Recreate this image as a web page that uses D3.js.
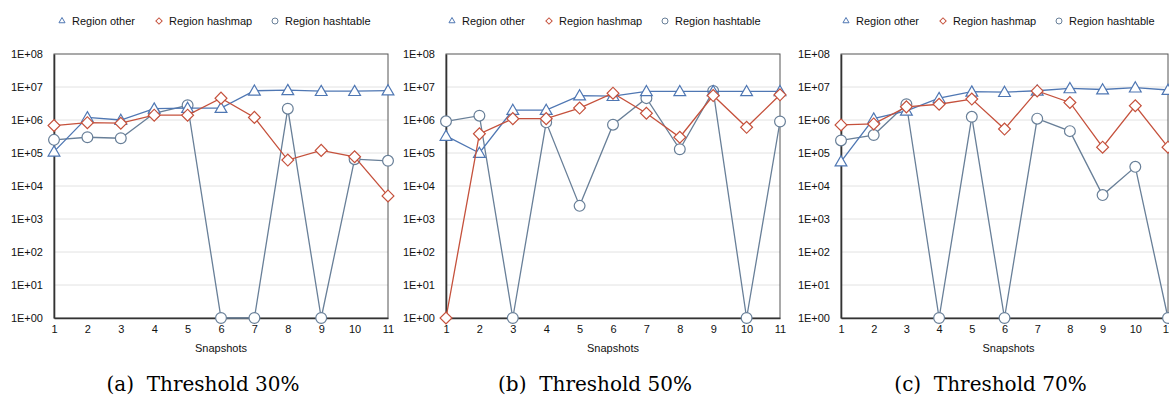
<!DOCTYPE html>
<html>
<head>
<meta charset="utf-8">
<script src="https://cdn.jsdelivr.net/npm/d3@7"></script>
<style>
  body { margin: 0; background: #fff; }
  svg { display: block; }
</style>
</head>
<body>
<svg id="chart" width="1169" height="397"></svg>
<script>
// snapshots on x, sizes (log scale) on y
var snapshots = [1, 2, 3, 4, 5, 6, 7, 8, 9, 10, 11];
var yTicks = [1, 1e1, 1e2, 1e3, 1e4, 1e5, 1e6, 1e7, 1e8];
var seriesNames = ["Region other", "Region hashmap", "Region hashtable"];
var captions = ["(a)  Threshold 30%", "(b)  Threshold 50%", "(c)  Threshold 70%"];

// threshold 30%
var other30     = [1.1e5, 1.2e6, 1.0e6, 2.2e6, 2.3e6, 2.3e6, 7.7e6, 8.0e6, 7.5e6, 7.5e6, 7.8e6];
var hashmap30   = [6.8e5, 8.3e5, 8.0e5, 1.4e6, 1.4e6, 4.6e6, 1.2e6, 6.1e4, 1.2e5, 7.7e4, 5.0e3];
var hashtable30 = [2.5e5, 3.0e5, 2.8e5, 1.6e6, 2.8e6, 1, 1, 2.2e6, 1, 6.5e4, 5.8e4];

// threshold 50%
var other50     = [3.3e5, 1.0e5, 2.0e6, 2.0e6, 5.5e6, 5.3e6, 7.4e6, 7.4e6, 7.4e6, 7.4e6, 7.4e6];
var hashmap50   = [1, 3.8e5, 1.1e6, 1.1e6, 2.3e6, 6.5e6, 1.6e6, 3.0e5, 5.5e6, 6.0e5, 5.8e6];
var hashtable50 = [9.1e5, 1.35e6, 1, 8.5e5, 2.5e3, 7.2e5, 4.6e6, 1.3e5, 7.6e6, 1, 9.0e5];

// threshold 70%
var other70     = [5.5e4, 1.1e6, 1.9e6, 4.6e6, 7.2e6, 7.0e6, 7.7e6, 9.1e6, 8.4e6, 9.6e6, 8.1e6];
var hashmap70   = [7.1e5, 7.6e5, 2.5e6, 3.0e6, 4.3e6, 5.3e5, 7.6e6, 3.4e6, 1.5e5, 2.7e6, 1.5e5];
var hashtable70 = [2.4e5, 3.5e5, 3.0e6, 1, 1.25e6, 1, 1.1e6, 4.6e5, 5.3e3, 3.8e4, 1];

var colors = { other: "#4f77b3", hashmap: "#c5513c", hashtable: "#687f98" };

var panels = [
  { left: 54,  right: 388,  legendX: 62,  caption: captions[0], other: other30, hashmap: hashmap30, hashtable: hashtable30 },
  { left: 446, right: 780,  legendX: 452, caption: captions[1], other: other50, hashmap: hashmap50, hashtable: hashtable50 },
  { left: 841, right: 1168, legendX: 846, caption: captions[2], other: other70, hashmap: hashmap70, hashtable: hashtable70 }
];

var plotTop = 54, plotBottom = 318;
var svg = d3.select("#chart");
var sans = "'Liberation Sans', Arial, sans-serif";

var triangle = d3.symbol().type(d3.symbolTriangle);
var square = d3.symbol().type(d3.symbolSquare);

function fmtExp(v) {
  var e = Math.round(Math.log10(v));
  return "1E+" + (e < 10 ? "0" : "") + e;
}

function drawMarker(sel, kind, big) {
  if (kind == "other") {
    sel.append("path").attr("d", triangle.size(big ? 60 : 16)())
      .attr("transform", function (d) { return "translate(" + d.x + "," + (d.y + (big ? 1 : 0)) + ")"; });
  } else if (kind == "hashmap") {
    sel.append("path").attr("d", square.size(big ? 70 : 20)())
      .attr("transform", function (d) { return "translate(" + d.x + "," + d.y + ") rotate(45)"; });
  } else {
    sel.append("circle").attr("r", big ? 5.4 : 3)
      .attr("cx", function (d) { return d.x; })
      .attr("cy", function (d) { return d.y; });
  }
}

panels.forEach(function (p) {
  var x = d3.scaleLinear().domain([1, 11]).range([p.left, p.right]);
  var y = d3.scaleLog().domain([1, 1e8]).range([plotBottom, plotTop]);
  var g = svg.append("g");

  // grid
  g.append("g").selectAll("line")
    .data(yTicks.slice(1, -1))
    .enter().append("line")
    .attr("x1", p.left).attr("x2", p.right)
    .attr("y1", function (d) { return y(d); })
    .attr("y2", function (d) { return y(d); })
    .attr("stroke", "#e2e2e2").attr("stroke-width", 1);

  // frame
  g.append("rect")
    .attr("x", p.left).attr("y", plotTop)
    .attr("width", p.right - p.left).attr("height", plotBottom - plotTop)
    .attr("fill", "none").attr("stroke", "#555").attr("stroke-width", 1);

  // y axis
  var yAxis = d3.axisLeft(y).tickValues(yTicks).tickFormat(fmtExp).tickSize(0).tickPadding(11);
  var ya = g.append("g").attr("transform", "translate(" + p.left + ",0)").call(yAxis);
  ya.select(".domain").attr("stroke", "#333").attr("stroke-width", 1.6);
  ya.selectAll("text").attr("font-family", sans).attr("font-size", 11).attr("fill", "#111");

  // x axis
  var xAxis = d3.axisBottom(x).tickValues(snapshots).tickFormat(d3.format("d")).tickSize(0).tickPadding(7);
  var xa = g.append("g").attr("transform", "translate(0," + plotBottom + ")").call(xAxis);
  xa.select(".domain").attr("stroke", "#333").attr("stroke-width", 1.6);
  xa.selectAll("text").attr("font-family", sans).attr("font-size", 11).attr("fill", "#111");

  g.append("text")
    .attr("x", (p.left + p.right) / 2 + (p.left > 800 ? 4 : 0)).attr("y", 352)
    .attr("text-anchor", "middle")
    .attr("font-family", sans).attr("font-size", 11).attr("fill", "#111")
    .text("Snapshots");

  g.append("text")
    .attr("x", (p.left + p.right) / 2 - 18 + (p.left > 800 ? 4 : 0)).attr("y", 391)
    .attr("text-anchor", "middle")
    .attr("font-family", "'DejaVu Serif', 'Liberation Serif', serif").attr("font-size", 20)
    .attr("fill", "#000")
    .style("white-space", "pre")
    .text(p.caption);

  // series: hashtable under, then other, then hashmap on top
  ["hashtable", "other", "hashmap"].forEach(function (kind) {
    var pts = p[kind].map(function (v, i) { return { x: x(snapshots[i]), y: y(v) }; });
    var line = d3.line().x(function (d) { return d.x; }).y(function (d) { return d.y; });
    var s = g.append("g");
    s.append("path").datum(pts)
      .attr("d", line)
      .attr("fill", "none").attr("stroke", colors[kind]).attr("stroke-width", 1.3);
    var m = s.append("g").attr("fill", "#fff").attr("stroke", colors[kind]).attr("stroke-width", 1.2)
      .selectAll("g").data(pts).enter().append("g");
    drawMarker(m, kind, true);
  });

  // legend
  var legendItems = [
    { kind: "other", name: seriesNames[0], dx: 0 },
    { kind: "hashmap", name: seriesNames[1], dx: 97 },
    { kind: "hashtable", name: seriesNames[2], dx: 213 }
  ];
  var lg = g.append("g");
  legendItems.forEach(function (it) {
    var item = lg.append("g");
    var mk = item.append("g").attr("fill", "#fff").attr("stroke", colors[it.kind]).attr("stroke-width", 1)
      .selectAll("g").data([{ x: p.legendX + it.dx, y: 21 }]).enter().append("g");
    drawMarker(mk, it.kind, false);
    item.append("text")
      .attr("x", p.legendX + it.dx + 10).attr("y", 25)
      .attr("font-family", sans).attr("font-size", 11).attr("fill", "#111")
      .text(it.name);
  });
});
</script>
</body>
</html>
